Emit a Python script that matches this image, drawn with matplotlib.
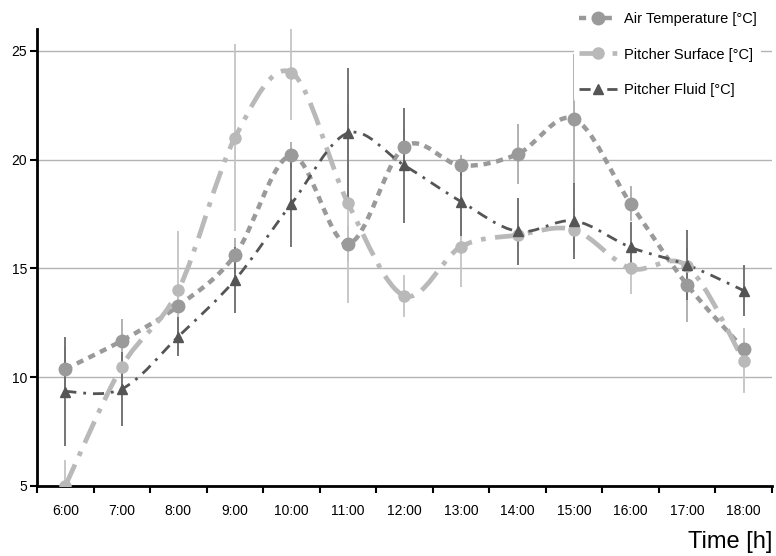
import matplotlib
matplotlib.use('Agg')
import matplotlib.pyplot as plt
import numpy as np
from matplotlib.path import Path
from matplotlib.patches import PathPatch

plt.rcParams['font.family'] = ['Liberation Sans', 'DejaVu Sans']

# Данные
hours = ['6:00', '7:00', '8:00', '9:00', '10:00', '11:00', '12:00',
         '13:00', '14:00', '15:00', '16:00', '17:00', '18:00']
air_temp = [10.37, 11.68, 13.28, 15.6, 20.2, 16.13, 20.6, 19.73, 20.25, 21.87, 17.97, 14.24, 11.3]
air_err = [1.0, 1.0, 0.5, 0.8, 0.6, 0.8, 0.8, 0.5, 1.38, 3.0, 0.8, 1.7, 0.9]
surface = [5.0, 10.49, 14.0, 21.0, 24.0, 18.0, 13.74, 16.0, 16.53, 16.77, 15.0, 15.1, 10.76]
surface_err = [1.2, 0.5, 2.74, 4.3, 2.2, 4.6, 0.96, 1.84, 0.5, 1.0, 1.17, 0.6, 1.5]
fluid = [9.34, 9.46, 11.87, 14.47, 17.97, 21.22, 19.73, 18.07, 16.7, 17.18, 15.97, 15.16, 13.98]
fluid_err = [2.5, 1.7, 0.9, 1.5, 2.0, 3.0, 2.64, 1.6, 1.55, 1.75, 1.18, 1.6, 1.16]

x = np.arange(len(hours))


def smooth_path(xs, ys):
    # сглаженная линия как в Excel (кривые Безье через точки)
    pts = np.column_stack([xs, ys]).astype(float)
    n = len(pts)
    verts = [pts[0]]
    codes = [Path.MOVETO]
    for i in range(n - 1):
        p0 = pts[i - 1] if i > 0 else pts[i]
        p1 = pts[i]
        p2 = pts[i + 1]
        p3 = pts[i + 2] if i + 2 < n else pts[i + 1]
        c1 = p1 + (p2 - p0) / 6.0
        c2 = p2 - (p3 - p1) / 6.0
        verts += [c1, c2, p2]
        codes += [Path.CURVE4] * 3
    return Path(verts, codes)


fig = plt.figure(figsize=(7.76, 5.56), dpi=100)
ax = fig.add_axes([0.0477, 0.1259, 0.9471, 0.8219])

series = [
    (air_temp, air_err, '#9a9a9a', '#ababab', 'o', 9, (0, (1.6, 1.3)), 3.2, 'Air Temperature [°C]'),
    (surface, surface_err, '#b9b9b9', '#c4c4c4', 'o', 8, (0, (5, 2, 1, 2)), 3.4, 'Pitcher Surface [°C]'),
    (fluid, fluid_err, '#555555', '#6a6a6a', '^', 7.5, (0, (4, 2.5, 1, 2.5)), 2.0, 'Pitcher Fluid [°C]'),
]

handles = []
for vals, err, col, ecol, mk, ms, ls, lw, label in series:
    ax.errorbar(x, vals, yerr=err, fmt='none', ecolor=ecol, elinewidth=1.3, capsize=0, zorder=2)
    patch = PathPatch(smooth_path(x, vals), facecolor='none', edgecolor=col,
                      linewidth=lw, linestyle=ls, zorder=3, capstyle='butt')
    ax.add_patch(patch)
    ax.plot(x, vals, linestyle='none', marker=mk, markersize=ms, color=col, zorder=4)
    h, = ax.plot([], [], color=col, linestyle=ls, linewidth=lw, marker=mk, markersize=ms)
    handles.append(h)

ax.set_xlim(-0.5, len(hours) - 0.5)
ax.set_ylim(5, 26)
ax.set_yticks([5, 10, 15, 20, 25])
ax.set_xticks(x)
ax.set_xticklabels(hours, fontsize=10)
ax.set_xticks(np.arange(len(hours) + 1) - 0.5, minor=True)
ax.tick_params(axis='x', which='major', length=0, pad=13)
ax.tick_params(axis='x', which='minor', length=5, width=1.5, direction='out')
ax.tick_params(axis='y', length=5, width=1.5, labelsize=10, pad=2)

for yg in [10, 15, 20, 25]:
    ax.axhline(yg, color='#b3b3b3', linewidth=1, zorder=1)

for s in ['top', 'right']:
    ax.spines[s].set_visible(False)
ax.spines['left'].set_linewidth(2)
ax.spines['bottom'].set_linewidth(2)

fig.legend(handles=handles, labels=[s[-1] for s in series], loc='upper right',
           bbox_to_anchor=(0.99, 1.0), frameon=True, edgecolor='none', facecolor='white',
           framealpha=1, fontsize=10.5, labelspacing=1.5, handlelength=2.6,
           handletextpad=0.5, numpoints=1, borderpad=0.3)

fig.text(0.995, 0.005, 'Time [h]', ha='right', va='bottom', fontsize=17)

fig.savefig('out.png', dpi=100)
